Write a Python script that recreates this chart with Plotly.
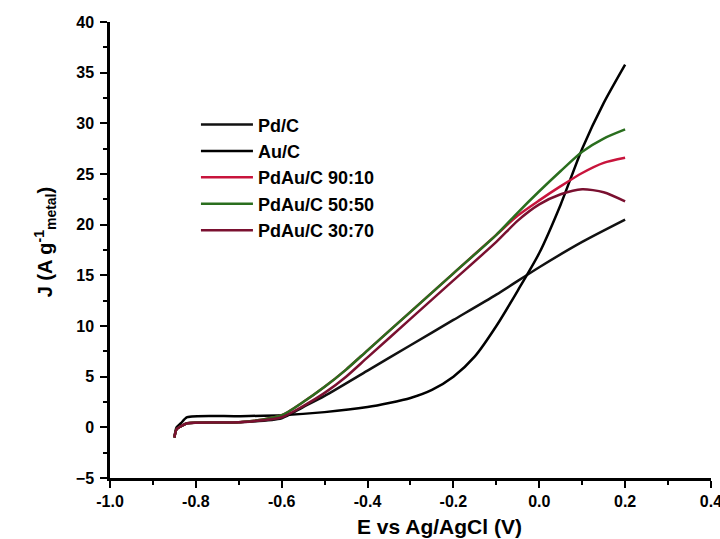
import plotly.graph_objects as go

# Au/C
E_au = [-0.85, -0.845, -0.835, -0.82, -0.7, -0.6, -0.5, -0.4, -0.35, -0.3, -0.25, -0.2, -0.15, -0.1, -0.05, 0.0, 0.05, 0.1, 0.15, 0.2]
J_au = [-1.0, 0.0, 0.4, 1.0, 1.1, 1.2, 1.5, 2.0, 2.4, 2.9, 3.7, 5.0, 7.0, 10.0, 13.5, 17.2, 22.0, 27.5, 32.0, 35.8]
# Pd/C
E_pd = [-0.85, -0.845, -0.835, -0.82, -0.7, -0.6, -0.55, -0.5, -0.4, -0.3, -0.2, -0.1, 0.0, 0.1, 0.2]
J_pd = [-1.0, -0.2, 0.1, 0.4, 0.5, 0.9, 2.0, 3.1, 5.6, 8.1, 10.6, 13.1, 15.8, 18.3, 20.5]
# PdAu/C 90:10
E_9010 = [-0.85, -0.845, -0.835, -0.82, -0.7, -0.6, -0.55, -0.5, -0.45, -0.4, -0.3, -0.2, -0.1, -0.05, 0.0, 0.05, 0.1, 0.15, 0.2]
J_9010 = [-1.0, -0.2, 0.1, 0.4, 0.5, 1.2, 2.5, 4.0, 5.7, 7.6, 11.4, 15.2, 19.0, 20.9, 22.4, 23.8, 25.1, 26.1, 26.6]
# PdAu/C 50:50
E_5050 = [-0.85, -0.845, -0.835, -0.82, -0.7, -0.6, -0.55, -0.5, -0.45, -0.4, -0.3, -0.2, -0.1, -0.05, 0.0, 0.05, 0.1, 0.15, 0.2]
J_5050 = [-1.0, -0.2, 0.1, 0.4, 0.5, 1.2, 2.5, 4.0, 5.7, 7.6, 11.4, 15.2, 19.0, 21.2, 23.3, 25.3, 27.2, 28.5, 29.4]
# PdAu/C 30:70
E_3070 = [-0.85, -0.845, -0.835, -0.82, -0.7, -0.6, -0.55, -0.5, -0.45, -0.4, -0.3, -0.2, -0.1, -0.05, 0.0, 0.05, 0.1, 0.15, 0.2]
J_3070 = [-1.0, -0.2, 0.1, 0.4, 0.5, 1.0, 2.1, 3.4, 5.0, 6.9, 10.7, 14.5, 18.3, 20.4, 22.0, 23.0, 23.5, 23.2, 22.3]

series = [
    ("Pd/C", E_pd, J_pd, "#111111"),
    ("Au/C", E_au, J_au, "#000000"),
    ("PdAu/C 90:10", E_9010, J_9010, "#c8143c"),
    ("PdAu/C 50:50", E_5050, J_5050, "#2a6e1e"),
    ("PdAu/C 30:70", E_3070, J_3070, "#7a1030"),
]

x_ticks = [-1.0, -0.8, -0.6, -0.4, -0.2, 0.0, 0.2, 0.4]
x_labels = ["-1.0", "-0.8", "-0.6", "-0.4", "-0.2", "0.0", "0.2", "0.4"]
y_ticks = [-5, 0, 5, 10, 15, 20, 25, 30, 35, 40]

x_title = "E vs Ag/AgCl (V)"
y_title = "J (A g<sup>-1</sup><sub>metal</sub>)"

fig = go.Figure()
for name, x, y, c in series:
    fig.add_trace(go.Scatter(x=x, y=y, mode="lines", name=name,
                             line=dict(color=c, width=2.5, shape="spline", smoothing=0.7)))

fam = "Liberation Sans, Arial"

fig.update_layout(
    width=720, height=539,
    margin=dict(l=110, r=9, t=22, b=61, autoexpand=False),
    paper_bgcolor="white", plot_bgcolor="white",
    font=dict(family=fam, size=16, color="black", weight="bold"),
    showlegend=True,
    legend=dict(x=0.143, y=0.815, xanchor="left", yanchor="top",
                bgcolor="rgba(0,0,0,0)", font=dict(family=fam, size=18, weight="bold"),
                tracegroupgap=0, itemwidth=52),
    xaxis=dict(range=[-1.0, 0.4001], tickvals=x_ticks, ticktext=x_labels,
               showgrid=False, zeroline=False, showline=True, linecolor="black", linewidth=2.5,
               ticks="outside", ticklen=7, tickwidth=2, tickcolor="black",
               ticklabeloverflow="allow", automargin=False,
               minor=dict(dtick=0.1, ticks="outside", ticklen=4, tickwidth=2, tickcolor="black"),
               tickfont=dict(family=fam, size=16, weight="bold")),
    yaxis=dict(range=[-5, 40.001], tickvals=y_ticks, automargin=False,
               showgrid=False, zeroline=False, showline=True, linecolor="black", linewidth=2.5,
               ticks="outside", ticklen=7, tickwidth=2, tickcolor="black",
               minor=dict(dtick=2.5, ticks="outside", ticklen=4, tickwidth=2, tickcolor="black"),
               ticklabelstandoff=3,
               tickfont=dict(family=fam, size=16, weight="bold")),
    annotations=[
        dict(text=x_title, xref="paper", yref="paper", x=0.549, y=-0.107,
             xanchor="center", yanchor="middle", showarrow=False,
             font=dict(family=fam, size=21, weight="bold")),
        dict(text=y_title, xref="paper", yref="paper", x=-0.108, y=0.517,
             xanchor="center", yanchor="middle", showarrow=False, textangle=-90,
             font=dict(family=fam, size=20, weight="bold")),
    ],
)

fig.write_html("out.html",
               config={"displayModeBar": False},
               post_script="document.body.style.margin='0';document.body.style.overflow='hidden';")
